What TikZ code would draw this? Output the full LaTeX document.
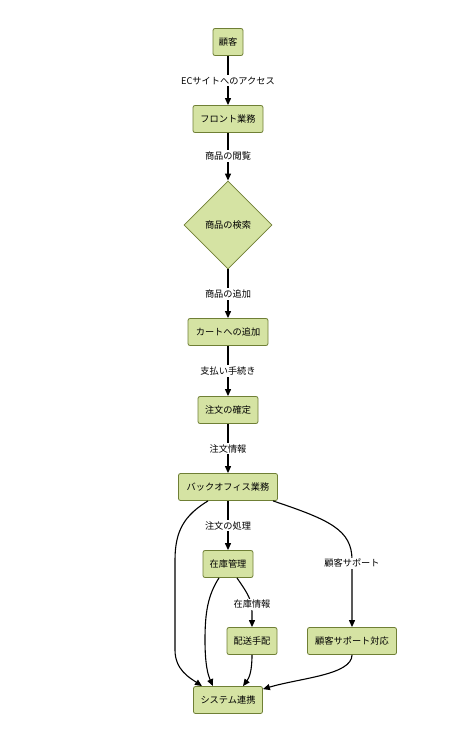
\documentclass[tikz,border=0pt]{standalone}
\usepackage{fontspec}
\setmainfont{Noto Sans CJK JP}
\usetikzlibrary{arrows.meta,shapes.geometric}
\definecolor{boxfill}{HTML}{D5E3A3}
\definecolor{boxline}{HTML}{6F7F35}
\tikzset{
  box/.style={draw=boxline,fill=boxfill,rounded corners=2pt,line width=0.8pt,minimum height=27pt,inner xsep=4pt,font=\fontsize{9.2}{11}\selectfont},
  dia/.style={draw=boxline,fill=boxfill,diamond,aspect=1,line width=0.8pt,minimum width=88pt,minimum height=88pt,inner sep=0pt,font=\fontsize{9.2}{11}\selectfont},
  conn/.style={line width=1.1pt,-{Triangle[length=7pt,width=6pt]}},
  lbl/.style={fill=white,inner sep=1.5pt,font=\fontsize{9.2}{11}\selectfont}
}
\begin{document}
\begin{tikzpicture}[x=1pt,y=-1pt]
\useasboundingbox (0,0) rectangle (468,737);
\node[box,minimum width=30pt,inner xsep=3pt] (cust) at (228,42) {顧客};
\node[box,minimum width=70pt] (front) at (228,119) {フロント業務};
\node[dia] (search) at (228,225) {商品の検索};
\node[box,minimum width=80pt] (cart) at (228,332) {カートへの追加};
\node[box,minimum width=60pt] (order) at (228,410) {注文の確定};
\node[box,minimum width=99pt] (back) at (228,487) {バックオフィス業務};
\node[box,minimum width=50pt] (inv) at (228,564) {在庫管理};
\node[box,minimum width=50pt] (ship) at (252,641) {配送手配};
\node[box,minimum width=89pt] (supp) at (352,641) {顧客サポート対応};
\node[box,minimum width=69pt] (sys) at (228,700) {システム連携};

\draw[conn] (cust) -- node[lbl] {ECサイトへのアクセス} (front);
\draw[conn] (front) -- node[lbl,pos=0.48] {商品の閲覧} (search);
\draw[conn] (search) -- node[lbl,pos=0.5] {商品の追加} (cart);
\draw[conn] (cart) -- node[lbl] {支払い手続き} (order);
\draw[conn] (order) -- node[lbl] {注文情報} (back);
\draw[conn] (back) -- node[lbl] {注文の処理} (inv);
\draw[conn] ([xshift=-20pt]back.south) .. controls (185,515) and (175,530) .. (175,560) -- (175,650) .. controls (175,670) and (190,678) .. ([xshift=-26pt]sys.north);
\draw[conn] ([xshift=45pt]back.south) .. controls (330,520) and (352,530) .. (352,560) -- node[lbl,pos=0.05] {顧客サポート} (supp.north);
\draw[conn] ([xshift=-9pt]inv.south) .. controls (208,595) and (205,612) .. (205,640) .. controls (205,665) and (208,675) .. ([xshift=-15pt]sys.north);
\draw[conn] ([xshift=9pt]inv.south) .. controls (245,590) and (252,598) .. (252,612) -- node[lbl,pos=-0.5] {在庫情報} (ship.north);
\draw[conn] (ship.south) .. controls (252,672) and (249,678) .. ([xshift=15pt]sys.north);
\draw[conn] (supp.south) .. controls (352,675) and (300,678) .. ([yshift=-3pt]sys.north east);
\end{tikzpicture}
\end{document}
